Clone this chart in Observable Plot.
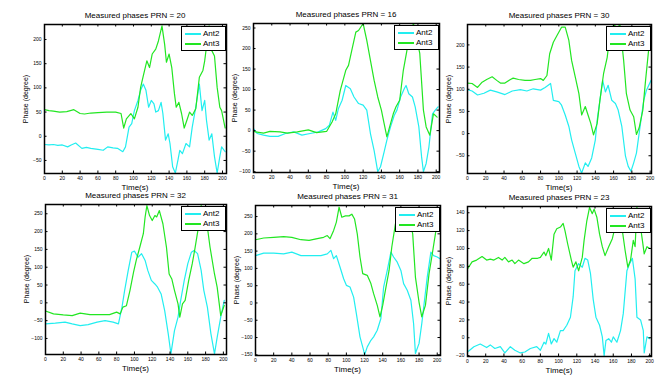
<!DOCTYPE html>
<html>
<head>
<meta charset="utf-8">
<script src="https://cdn.jsdelivr.net/npm/d3@7"></script>
<script src="https://cdn.jsdelivr.net/npm/@observablehq/plot@0.6"></script>
<style>
  html, body { margin: 0; padding: 0; background: #fff; }
  #root { position: relative; width: 670px; height: 387px; overflow: hidden; font-family: "Liberation Sans", Arial, sans-serif; color: #000; }
  .abs { position: absolute; white-space: nowrap; line-height: 1; }
  .title { font-size: 8px; transform: translate(-50%, -50%); }
  .xlab { font-size: 8px; transform: translate(-50%, -50%); }
  .ylab { font-size: 7px; transform: translate(-50%, -50%) rotate(-90deg); }
  .legend { box-sizing: border-box; border: 1px solid #000; background: #fff; padding: 2px 0 0 3px; }
  .legend .row { display: flex; align-items: center; height: 10px; font-size: 8px; }
  .legend .sw { display: inline-block; width: 16px; height: 1.6px; margin-right: 2px; }
</style>
</head>
<body>
<div id="root"></div>
<script>
// ---- shared tick labels / categories ----
const xTicks = [0, 20, 40, 60, 80, 100, 120, 140, 160, 180, 200];
const seriesNames = ["Ant2", "Ant3"];
const titles = ["Measured phases PRN = 20", "Measured phases PRN = 16", "Measured phases PRN = 30",
                "Measured phases PRN = 32", "Measured phases PRN = 31", "Measured phases PRN = 23"];
const xLabel = "Time(s)";
const yLabel = "Phase (degree)";

// ---- PRN 20 ----
const prn20_ant2_t = [0,5,10,15,20,26,30,35,42,47,52,60,66,71,77,82,88,91,95,98,101,105,108,111,114,117,120,123,125,128,131,133,136,139,141,144,147,150,152,155,159,163,166,170,174,177,180,182,185,188,191,194,197,199,203];
const prn20_ant2_v = [-17,-18,-17,-19,-18,-22,-18,-14,-25,-23,-25,-27,-29,-22,-24,-25,-32,-22,19,26,53,74,95,108,95,60,74,67,50,53,70,47,-8,5,-15,-63,-76,-49,-29,-36,-15,-22,19,60,108,53,74,33,-8,5,-42,-76,-42,-22,-32];
const prn20_ant3_t = [0,5,10,17,25,33,40,45,52,60,70,80,86,89,92,97,101,105,108,111,115,118,121,125,128,132,135,137,140,143,146,148,151,154,157,160,163,166,170,174,178,180,185,188,191,194,197,199,203];
const prn20_ant3_v = [55,53,52,50,51,55,47,46,48,49,50,50,47,17,36,47,36,60,101,125,156,142,170,180,197,228,190,153,170,142,88,60,70,47,17,33,50,43,57,122,136,156,228,177,166,101,60,53,17];

// ---- PRN 16 ----
const prn16_ant2_t = [0,4,11,18,27,35,44,53,62,71,79,83,87,90,93,97,101,106,110,115,120,124,128,132,136,139,143,146,150,154,157,161,165,167,170,174,177,181,184,186,189,192,196,199,202];
const prn16_ant2_v = [5,-7,-11,-14,-14,-7,-3,-11,-7,-3,5,13,45,25,54,74,110,102,82,66,62,50,-7,-48,-100,-88,-52,-23,9,37,50,82,102,110,90,82,58,9,-64,-100,-80,-40,41,50,58];
const prn16_ant3_t = [0,11,18,29,37,48,60,69,80,86,90,95,101,104,108,112,115,120,124,128,132,136,140,143,146,149,153,156,160,164,168,172,175,179,182,186,189,193,197,201];
const prn16_ant3_v = [-2,-6,-2,-3,-6,-3,2,-5,-2,21,41,98,147,159,200,240,244,261,220,171,123,82,50,17,-15,9,41,58,74,147,196,228,262,220,188,50,9,-11,41,33];

// ---- PRN 30 ----
const prn30_ant2_t = [0,5,11,18,25,32,41,49,58,65,72,80,85,91,94,100,103,107,111,114,118,122,125,129,132,136,140,142,145,148,151,154,158,162,165,169,173,176,179,182,185,189,193,196,201];
const prn30_ant2_v = [99,96,87,91,98,94,88,96,99,96,101,98,104,113,75,72,64,42,16,-14,-44,-74,-89,-66,-74,-55,-14,30,75,120,94,109,75,68,53,16,-51,-74,-85,-66,-44,16,75,98,120];
const prn30_ant3_t = [0,5,11,16,21,27,32,36,41,47,50,56,63,69,74,80,83,87,90,94,98,103,107,111,114,118,122,125,129,132,135,138,142,145,149,153,156,160,164,167,171,174,178,182,185,188,192,195,199,201];
const prn30_ant3_v = [114,113,104,116,122,128,120,114,114,122,125,122,120,120,122,124,120,131,180,206,221,240,240,210,165,128,90,42,61,42,23,-3,23,75,135,172,225,245,240,245,165,90,53,38,-2,13,53,120,202,202];

// ---- PRN 32 ----
const prn32_ant2_t = [0,11,22,30,39,48,58,67,76,82,86,89,93,97,100,104,108,112,115,119,123,126,130,134,138,141,145,149,152,156,160,164,167,171,175,178,182,186,190,193,197,201];
const prn32_ant2_v = [-59,-57,-54,-59,-64,-61,-54,-50,-54,-59,-12,35,91,142,145,128,138,119,91,63,53,44,25,-22,-87,-143,-78,-40,7,63,110,142,147,138,91,35,-12,-87,-143,-97,-40,7];
const prn32_ant3_t = [0,9,20,30,39,50,61,72,80,84,87,91,95,99,102,106,110,112,114,117,120,123,125,128,132,136,139,142,145,149,151,154,157,161,165,168,172,175,180,185,190,193,197,201];
const prn32_ant3_v = [-23,-31,-34,-36,-29,-33,-33,-33,-26,-31,-12,-8,35,86,119,156,194,241,273,245,231,245,241,259,222,156,81,67,35,-3,-40,-3,7,63,110,152,213,273,250,156,81,44,-36,-7];

// ---- PRN 31 ----
const prn31_ant2_t = [0,9,20,31,40,50,61,72,79,83,86,89,93,97,100,104,108,111,115,119,120,123,127,130,134,138,141,145,149,152,156,160,163,167,171,174,176,180,183,186,189,193,196,200,203];
const prn31_ant2_v = [137,144,144,142,147,137,137,137,142,152,128,137,104,70,51,46,17,-31,-98,-137,-151,-127,-108,-98,-79,-45,46,94,147,133,118,94,56,37,8,-60,-146,-117,-60,8,75,147,137,133,128];
const prn31_ant3_t = [0,9,20,31,40,50,59,68,75,79,82,86,89,92,95,99,103,106,109,112,115,118,123,127,130,134,137,140,143,147,150,154,158,162,166,170,173,176,180,183,187,191,194,198,202];
const prn31_ant3_v = [183,188,190,192,190,183,181,186,190,195,186,210,234,277,248,252,252,257,243,200,133,85,80,56,27,-7,-40,-7,37,94,162,229,267,275,270,240,200,75,2,-40,-7,85,133,200,267];

// ---- PRN 23 ----
const prn23_ant2_t = [0,7,14,21,25,30,36,41,47,52,58,63,69,76,80,84,86,89,92,95,98,102,105,109,113,116,118,122,126,129,132,135,138,141,145,148,150,152,155,158,160,164,168,171,175,178,181,184,186,190,193,194,197,200];
const prn23_ant2_v = [-16,-10,-7,-11,-8,-12,-10,-17,-10,-14,-17,-16,-12,-10,-14,-5,-7,5,-7,-1,-5,8,8,14,23,46,75,83,79,89,87,72,43,23,14,1,-20,-3,-1,-5,1,-5,8,27,75,83,89,66,23,20,8,-17,1,-1];
const prn23_ant3_t = [0,5,10,16,21,25,29,34,38,41,45,49,52,56,62,67,71,77,80,84,86,89,92,95,98,102,105,107,110,114,116,119,122,126,128,131,134,137,139,142,145,148,151,155,159,162,166,170,173,176,179,182,184,186,189,192,194,197,200];
const prn23_ant3_v = [77,85,87,91,87,88,87,90,87,90,85,87,83,87,83,85,89,89,90,96,92,100,87,116,122,124,128,120,105,87,79,85,75,90,109,131,146,139,144,135,116,102,92,102,111,124,135,120,98,79,87,109,102,146,131,109,94,102,100];

// ---- y tick labels per panel ----
const yTicks20 = [-50, 0, 50, 100, 150, 200];
const yTicks16 = [-100, -50, 0, 50, 100, 150, 200, 250];
const yTicks30 = [-50, 0, 50, 100, 150, 200];
const yTicks32 = [-100, -50, 0, 50, 100, 150, 200, 250];
const yTicks31 = [-150, -100, -50, 0, 50, 100, 150, 200, 250];
const yTicks23 = [-20, 0, 20, 40, 60, 80, 100, 120, 140];

// ---- layout / style (not data) ----
const COLORS = { Ant2: "#22eef0", Ant3: "#22e622" };
const panels = [
  { title: titles[0], box: [44, 24, 226, 173], xMax: 204.5, yDomain: [-77, 231], yTicks: yTicks20, a2: [prn20_ant2_t, prn20_ant2_v], a3: [prn20_ant3_t, prn20_ant3_v] },
  { title: titles[1], box: [253, 23, 439, 172], xMax: 203.6, yDomain: [-102, 261], yTicks: yTicks16, a2: [prn16_ant2_t, prn16_ant2_v], a3: [prn16_ant3_t, prn16_ant3_v] },
  { title: titles[2], box: [467, 24, 651, 173], xMax: 201.5, yDomain: [-90, 246], yTicks: yTicks30, a2: [prn30_ant2_t, prn30_ant2_v], a3: [prn30_ant3_t, prn30_ant3_v] },
  { title: titles[3], box: [45, 204, 226, 354], xMax: 203.5, yDomain: [-145, 276], yTicks: yTicks32, a2: [prn32_ant2_t, prn32_ant2_v], a3: [prn32_ant3_t, prn32_ant3_v] },
  { title: titles[4], box: [255, 205, 440, 355], xMax: 203.6, yDomain: [-152, 282], yTicks: yTicks31, a2: [prn31_ant2_t, prn31_ant2_v], a3: [prn31_ant3_t, prn31_ant3_v] },
  { title: titles[5], box: [467, 206, 651, 356], xMax: 202, yDomain: [-21, 147], yTicks: yTicks23, a2: [prn23_ant2_t, prn23_ant2_v], a3: [prn23_ant3_t, prn23_ant3_v] }
];

const root = document.getElementById("root");
const ML = 30, MR = 6, MT = 22, MB = 22, TICK = 2.5;

function toRows(pair) { return pair[0].map((t, i) => ({ t, v: pair[1][i] })); }

function addDiv(cls, text, x, y) {
  const d = document.createElement("div");
  d.className = "abs " + cls;
  d.textContent = text;
  d.style.left = x + "px";
  d.style.top = y + "px";
  root.appendChild(d);
  return d;
}

for (const p of panels) {
  const [L, T, R, B] = p.box;
  const pw = R - L, ph = B - T;
  const svg = Plot.plot({
    width: pw + ML + MR,
    height: ph + MT + MB,
    marginLeft: ML, marginRight: MR, marginTop: MT, marginBottom: MB,
    x: { domain: [0, p.xMax] },
    y: { domain: p.yDomain },
    style: { background: "transparent", fontFamily: "'Liberation Sans', Arial, sans-serif", fontSize: "5px", overflow: "visible" },
    marks: [
      Plot.axisX(xTicks, { tickSize: 0, tickPadding: 2.5, label: null, fontSize: 5 }),
      Plot.axisY(p.yTicks, { tickSize: 0, tickPadding: 3, label: null, fontSize: 5 }),
      Plot.line(toRows(p.a2), { x: "t", y: "v", stroke: COLORS.Ant2, strokeWidth: 1.2, clip: true }),
      Plot.line(toRows(p.a3), { x: "t", y: "v", stroke: COLORS.Ant3, strokeWidth: 1.2, clip: true }),
      Plot.tickX(xTicks, { x: d => d, insetTop: ph - TICK, stroke: "#000" }),
      Plot.tickX(xTicks, { x: d => d, insetBottom: ph - TICK, stroke: "#000" }),
      Plot.tickY(p.yTicks, { y: d => d, insetRight: pw - TICK, stroke: "#000" }),
      Plot.tickY(p.yTicks, { y: d => d, insetLeft: pw - TICK, stroke: "#000" }),
      Plot.frame({ stroke: "#000", strokeWidth: 1.5 })
    ]
  });
  svg.style.position = "absolute";
  svg.style.left = (L - ML) + "px";
  svg.style.top = (T - MT) + "px";
  svg.style.maxWidth = "none";
  root.appendChild(svg);

  addDiv("title", p.title, (L + R) / 2, T - 8);
  addDiv("xlab", xLabel, (L + R) / 2, B + 15);
  addDiv("ylab", yLabel, L - 19, (T + B) / 2);

  const lg = document.createElement("div");
  lg.className = "abs legend";
  lg.style.left = (R - 45) + "px";
  lg.style.top = (T + 2) + "px";
  lg.style.width = "45px";
  lg.style.height = "25px";
  for (const name of seriesNames) {
    const row = document.createElement("div");
    row.className = "row";
    const sw = document.createElement("span");
    sw.className = "sw";
    sw.style.background = COLORS[name];
    const tx = document.createElement("span");
    tx.textContent = name;
    row.appendChild(sw);
    row.appendChild(tx);
    lg.appendChild(row);
  }
  root.appendChild(lg);
}
</script>
</body>
</html>
